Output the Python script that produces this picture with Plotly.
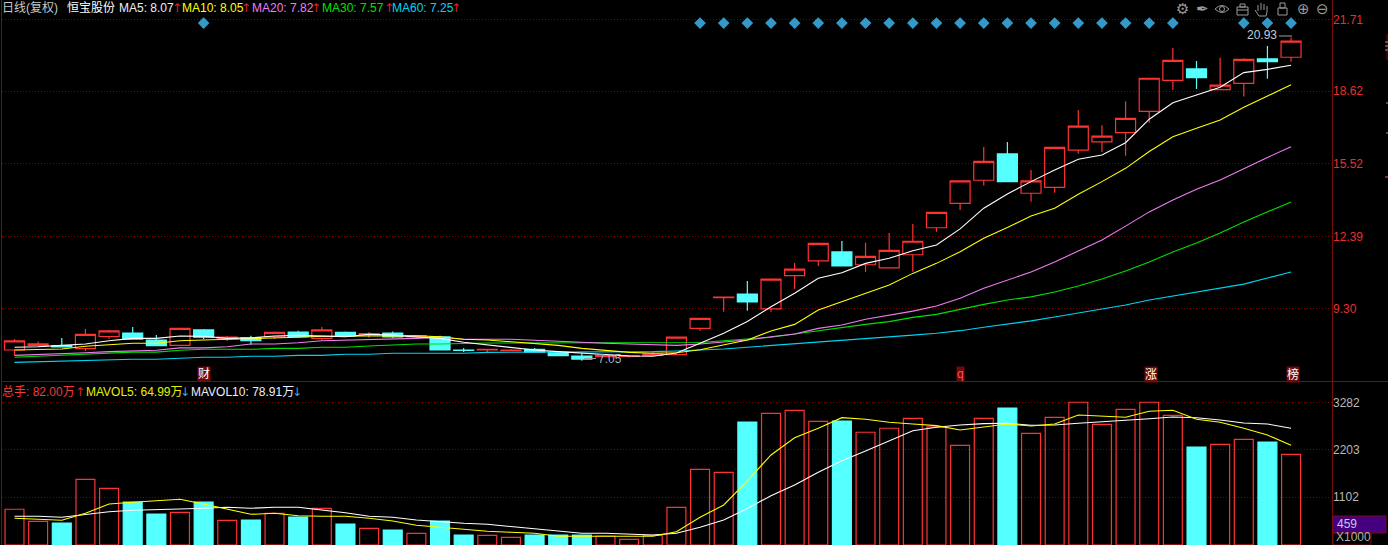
import plotly.graph_objects as go

W, H = 1388, 545

opens = [7.51,7.71,7.70,7.57,8.09,8.24,7.94,7.71,8.37,8.00,8.03,8.08,8.28,8.01,8.27,8.17,8.24,8.07,8.07,7.51,7.51,7.48,7.54,7.41,7.25,7.22,7.23,7.28,7.31,8.44,9.76,9.91,9.28,10.70,11.34,11.72,11.17,11.04,11.60,12.76,13.81,14.80,15.93,14.24,14.49,16.09,16.45,16.84,17.76,19.09,19.58,18.69,18.96,20.01,20.08]
highs = [7.98,7.88,8.03,8.41,8.38,8.50,8.15,8.44,8.41,8.11,8.12,8.30,8.34,8.50,8.30,8.28,8.30,8.15,8.12,7.60,7.54,7.55,7.60,7.47,7.37,7.28,7.27,7.42,8.06,8.87,9.78,10.47,10.55,11.25,12.09,12.19,12.12,12.53,12.92,13.42,14.77,16.23,16.44,15.24,16.21,17.82,17.16,18.19,19.18,20.48,19.92,20.06,20.04,20.56,20.93]
lows = [7.27,7.66,7.64,7.47,7.98,7.98,7.70,7.71,7.98,7.90,7.72,7.98,8.08,7.94,8.12,8.04,8.03,8.05,7.51,7.42,7.42,7.48,7.42,7.27,7.05,7.22,7.18,7.28,7.31,8.34,9.15,9.20,9.15,10.13,11.12,11.12,10.86,11.04,10.87,12.59,13.52,14.57,14.74,13.88,14.26,15.94,16.01,15.85,17.27,18.67,18.72,18.69,18.39,19.16,19.89]
closes = [7.90,7.77,7.64,8.18,8.33,7.98,7.70,8.44,8.06,8.06,7.91,8.27,8.08,8.37,8.12,8.21,8.07,8.13,7.51,7.49,7.54,7.51,7.42,7.27,7.12,7.28,7.27,7.34,8.06,8.87,9.78,9.58,10.55,10.98,12.09,11.12,11.53,11.79,12.18,13.42,14.77,15.61,14.74,14.77,16.21,17.12,16.69,17.46,19.18,19.95,19.20,18.88,19.99,19.89,20.77]

ma5 = [7.63,7.65,7.71,7.77,7.91,8.01,8.01,8.11,8.10,8.01,8.03,8.11,8.14,8.11,8.08,8.18,8.15,8.07,8.01,7.84,7.72,7.63,7.51,7.44,7.37,7.30,7.25,7.24,7.38,7.80,8.23,8.73,9.37,9.95,10.59,10.83,11.23,11.45,11.77,12.02,12.71,13.60,14.21,14.74,15.24,15.70,15.88,16.41,17.42,18.13,18.46,18.79,19.42,19.56,19.74]
ma10 = [7.51,7.54,7.55,7.67,7.72,7.80,7.80,7.91,7.94,7.97,7.97,8.01,8.06,8.10,8.10,8.10,8.12,8.12,8.08,7.97,7.94,7.87,7.80,7.71,7.58,7.50,7.41,7.37,7.39,7.52,7.72,7.94,8.33,8.61,9.23,9.58,9.95,10.30,10.80,11.23,11.73,12.31,12.77,13.26,13.60,14.20,14.74,15.31,16.03,16.67,17.03,17.39,17.93,18.42,18.90]
ma20 = [7.28,7.31,7.34,7.39,7.44,7.47,7.50,7.60,7.60,7.65,7.77,7.77,7.82,7.91,7.93,7.97,7.97,8.01,8.06,7.97,7.97,7.97,7.93,7.88,7.84,7.80,7.77,7.74,7.71,7.77,7.87,7.94,8.08,8.20,8.44,8.58,8.83,9.01,9.18,9.40,9.73,10.16,10.52,10.86,11.29,11.76,12.23,12.83,13.44,13.95,14.41,14.81,15.31,15.78,16.24]
ma30 = [7.20,7.24,7.30,7.35,7.39,7.42,7.42,7.50,7.54,7.54,7.54,7.58,7.58,7.63,7.63,7.68,7.72,7.77,7.77,7.80,7.81,7.81,7.81,7.81,7.81,7.81,7.81,7.81,7.81,7.83,7.91,7.97,8.06,8.20,8.34,8.49,8.61,8.73,8.91,9.04,9.26,9.47,9.66,9.79,10.00,10.26,10.56,10.90,11.29,11.72,12.10,12.53,13.01,13.44,13.87]
ma60 = [6.98,7.01,7.01,7.07,7.07,7.11,7.11,7.15,7.20,7.20,7.24,7.24,7.28,7.28,7.33,7.33,7.37,7.37,7.37,7.37,7.41,7.41,7.41,7.41,7.41,7.41,7.44,7.44,7.47,7.51,7.55,7.63,7.70,7.80,7.84,7.91,7.98,8.08,8.15,8.23,8.34,8.49,8.61,8.76,8.93,9.10,9.27,9.44,9.66,9.83,10.00,10.17,10.34,10.60,10.86]

volumes = [823,546,507,1514,1306,991,714,753,991,569,576,730,645,846,484,385,346,269,553,230,223,177,230,230,230,207,131,223,868,1744,1675,2834,3034,3103,2850,2857,2597,2689,2919,2719,2297,2919,3156,2573,2942,3288,2780,3126,3288,2988,2258,2320,2435,2373,2090]
mavol5 = [615,592,569,730,945,984,1021,1053,945,829,707,730,675,661,661,615,553,454,408,362,316,293,270,200,200,200,200,200,306,638,922,1475,2074,2472,2689,2933,2896,2827,2788,2749,2650,2712,2788,2742,2788,2995,2965,2942,3080,3103,2896,2827,2689,2534,2297]
mavol10 = [661,661,638,698,767,799,806,829,846,869,846,869,869,806,744,661,638,576,537,500,477,422,369,316,270,270,247,230,270,408,576,839,1136,1382,1675,1942,2166,2403,2633,2712,2765,2795,2804,2760,2765,2804,2834,2873,2910,2949,2933,2880,2811,2788,2689]

price_ticks = [21.71, 18.62, 15.52, 12.39, 9.30]
price_labels = ["21.71", "18.62", "15.52", "12.39", "9.30"]
vol_ticks = [1102, 2203, 3282]
vol_labels = ["1102", "2203", "3282"]
marker_days = [8] + list(range(29, 50)) + [52, 53, 54]
marker_level = 21.55
flag_labels = [("财", 204), ("q", 960), ("涨", 1151), ("榜", 1293)]

RED = "#ff3232"
CYAN = "#54ffff"
GRID = "#800000"
FRAME = "#7a0c0c"
ICON = "#9a9a9a"
FONT = "Liberation Sans, Noto Sans CJK SC, sans-serif"
ARROW = "DejaVu Sans"
days = list(range(len(closes)))

def X(px): return px / W
def Y(py): return 1 - py / H

fig = go.Figure()
fig.add_trace(go.Candlestick(
    x=days, open=opens, high=highs, low=lows, close=closes, whiskerwidth=0,
    increasing=dict(line=dict(color=RED, width=1.2), fillcolor="rgba(0,0,0,0)"),
    decreasing=dict(line=dict(color=CYAN, width=1.2), fillcolor=CYAN),
    xaxis="x", yaxis="y", showlegend=False))
for vals, col in [(ma60, "#00d4f4"), (ma30, "#00e000"), (ma20, "#f07cf0"), (ma10, "#ffff00"), (ma5, "#ffffff")]:
    fig.add_trace(go.Scatter(x=days, y=vals, mode="lines", line=dict(color=col, width=1.1),
                             xaxis="x", yaxis="y", showlegend=False))
fig.add_trace(go.Scatter(x=marker_days, y=[marker_level] * len(marker_days), mode="markers",
                         marker=dict(symbol="diamond", size=9, color="#3399c8"),
                         xaxis="x", yaxis="y", showlegend=False))

up = [c >= o for o, c in zip(opens, closes)]
fig.add_trace(go.Bar(x=days, y=volumes, width=0.8,
                     marker=dict(color=["rgba(0,0,0,0)" if u else CYAN for u in up],
                                 line=dict(color=[RED if u else CYAN for u in up], width=1.2)),
                     xaxis="x2", yaxis="y2", showlegend=False))
for vals, col in [(mavol10, "#ffffff"), (mavol5, "#ffff00")]:
    fig.add_trace(go.Scatter(x=days, y=vals, mode="lines", line=dict(color=col, width=1.1),
                             xaxis="x2", yaxis="y2", showlegend=False))

ann = []
def text(px, py, s, color, size=12, anchor="left", font=FONT, bg=None):
    d = dict(xref="paper", yref="paper", x=X(px), y=Y(py), text=s, showarrow=False,
             xanchor=anchor, yanchor="middle", font=dict(family=font, size=size, color=color),
             borderpad=0)
    if bg:
        d["bgcolor"] = bg
    ann.append(d)

text(1, 8, "日线(复权)", "#c8c8c8")
text(66, 8, "恒宝股份", "#ffffff")
for px, s, c, ax in [(118, "MA5: 8.07", "#e8f0ff", 171), (181, "MA10: 8.05", "#ffff00", 240),
                     (251, "MA20: 7.82", "#f07cf0", 310), (321, "MA30: 7.57", "#00e000", 383),
                     (391, "MA60: 7.25", "#00d4f4", 450)]:
    text(px, 8, s, c)
    text(ax, 8, "↑", "#e02020", font=ARROW)
text(1, 392, "总手: 82.00万", "#f03c3c")
text(74, 392, "↑", "#e02020", font=ARROW)
text(85, 392, "MAVOL5: 64.99万", "#e6f000")
text(179, 392, "↓", "#3aa0e0", font=ARROW)
text(190, 392, "MAVOL10: 78.91万", "#e8f0ff")
text(291, 392, "↓", "#3aa0e0", font=ARROW)
text(597, 359, "7.05", "#9fb4c8")
text(1246, 35, "20.93", "#c4ccd4")
for s, px in flag_labels:
    text(px, 374, s, "#ffffff" if s != "q" else "#ff5050", anchor="center", bg="#6e0a0a")
text(1336, 524, "459", "#c8c8e8")
text(1335, 537, "X1000", "#b0b0b0")

# toolbar glyphs
for s, px in [("⚙", 1182), ("✒", 1202), ("⊕", 1303), ("⊖", 1322)]:
    text(px, 9, s, ICON, size=15, anchor="center", font="DejaVu Sans")

def line(x0, y0, x1, y1, color=FRAME, width=1):
    return dict(type="line", xref="paper", yref="paper", x0=X(x0), x1=X(x1), y0=Y(y0), y1=Y(y1),
                line=dict(color=color, width=width), layer="above")
def rect(x0, y0, x1, y1, color=ICON, fill=None, layer="above", width=1):
    return dict(type="rect", xref="paper", yref="paper", x0=X(x0), x1=X(x1), y0=Y(y0), y1=Y(y1),
                line=dict(color=color, width=width), fillcolor=fill or "rgba(0,0,0,0)", layer=layer)
def circle(cx, cy, r, color=ICON):
    return dict(type="circle", xref="paper", yref="paper", x0=X(cx - r), x1=X(cx + r), y0=Y(cy - r), y1=Y(cy + r),
                line=dict(color=color, width=1), layer="above")

shapes = [
    line(1.5, 0, 1.5, H), line(1332.5, 0, 1332.5, H), line(2, 381.5, W, 381.5),
    rect(1333, 516, 1386, 533, color=FRAME, fill="#440080", layer="below"),
    rect(1333, 533, 1371, H, color=FRAME, layer="below"),
    # arrows of the extreme-price labels
    line(584, 358.5, 596, 358.5, "#a0a0a0"), line(1279, 36, 1292, 36, "#a0a0a0"),
    # eye, toolbox, lock
    dict(type="path", xref="paper", yref="paper", layer="above", line=dict(color=ICON, width=1),
         path=f"M {X(1215)},{Y(9)} Q {X(1222)},{Y(2)} {X(1229)},{Y(9)} Q {X(1222)},{Y(16)} {X(1215)},{Y(9)} Z"),
    circle(1222, 9, 2.5),
    rect(1237, 7, 1248, 15), rect(1240, 4, 1245, 7), line(1237, 10, 1248, 10, ICON),
    rect(1278, 8, 1287, 15), rect(1280, 3, 1285, 8),
    # hand icon
    line(1258, 5, 1258, 11, ICON), line(1261, 3, 1261, 10, ICON), line(1264, 4, 1264, 10, ICON),
    line(1267, 6, 1267, 12, ICON), line(1255, 10, 1259, 16, ICON),
    line(1259, 16, 1266, 16, ICON), line(1266, 16, 1267, 12, ICON),
    # small marks at the right edge
    line(1387, 34, 1387, 60, FRAME), line(1385, 42, 1388, 42, ICON), line(1385, 46, 1388, 46, ICON),
    line(1385, 50, 1388, 50, ICON), line(1386, 103, 1388, 103, ICON), line(1386, 133, 1388, 133, ICON),
    line(1385, 177, 1388, 177, "#a02020", 2),
]

dom = [X(2), X(1332)]
rng = [(2 - 14.5) / 23.64, (1332 - 14.5) / 23.64]
axis_font = dict(family=FONT, size=12)
fig.update_layout(
    width=W, height=H, margin=dict(l=0, r=0, t=0, b=0), autosize=False,
    paper_bgcolor="#000000", plot_bgcolor="#000000", showlegend=False,
    boxgap=0.08, boxgroupgap=0.08, bargap=0.2, hovermode=False,
    font=dict(family=FONT),
    xaxis=dict(domain=dom, range=rng, anchor="y", showgrid=False, zeroline=False, showticklabels=False,
               ticks="", showline=False, rangeslider=dict(visible=False)),
    xaxis2=dict(domain=dom, range=rng, anchor="y2", showgrid=False, zeroline=False, showticklabels=False,
                ticks="", showline=False),
    yaxis=dict(domain=[Y(381), 1], range=[22.539 - 0.04294 * 381, 22.539], anchor="x", side="right",
               tickmode="array", tickvals=price_ticks, ticktext=price_labels, ticks="",
               tickfont=dict(color="#e83030", **axis_font), showgrid=True, gridcolor=GRID, griddash="1px,2px",
               gridwidth=1, zeroline=False, showline=False),
    yaxis2=dict(domain=[0, Y(382)], range=[0, 3755], anchor="x2", side="right",
                tickmode="array", tickvals=vol_ticks, ticktext=vol_labels, ticks="",
                tickfont=dict(color="#b8b8b8", **axis_font), showgrid=True, gridcolor=GRID, griddash="1px,2px",
                gridwidth=1, zeroline=False, showline=False),
    annotations=ann, shapes=shapes,
)
fig.write_html("out.html", config=dict(displayModeBar=False),
               post_script="document.body.style.margin='0';document.documentElement.style.overflow='hidden';")
